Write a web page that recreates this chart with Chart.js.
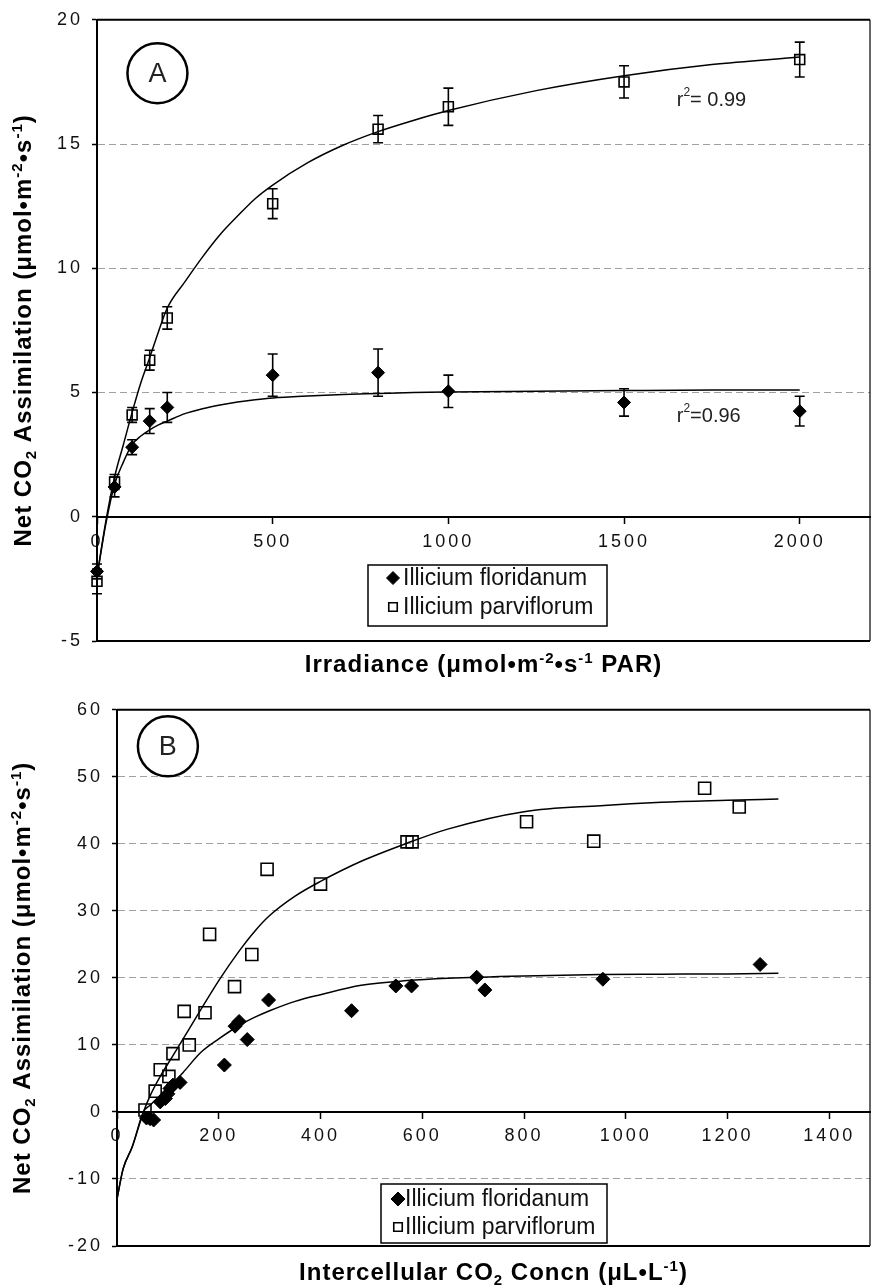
<!DOCTYPE html>
<html>
<head>
<meta charset="utf-8">
<script src="https://cdn.jsdelivr.net/npm/chart.js@4.4.1/dist/chart.umd.min.js"></script>
<style>
  html, body { margin: 0; padding: 0; background: #fff; }
  canvas { display: block; }
</style>
</head>
<body>
<canvas id="chartA" width="871" height="690"></canvas>
<canvas id="chartB" width="871" height="598"></canvas>
<script>
// ---- panel A: light response curves ----
var irradiance = [0, 50, 100, 150, 200, 500, 800, 1000, 1500, 2000];
var floridanumA = [-2.2, 1.2, 2.8, 3.85, 4.4, 5.7, 5.8, 5.05, 4.6, 4.25];
var floridanumAErr = [0.3, 0.4, 0.3, 0.5, 0.6, 0.85, 0.95, 0.65, 0.55, 0.6];
var parviflorumA = [-2.6, 1.4, 4.1, 6.3, 8.0, 12.6, 15.6, 16.5, 17.5, 18.4];
var parviflorumAErr = [0.5, 0.3, 0.3, 0.4, 0.45, 0.6, 0.55, 0.75, 0.65, 0.7];

var fitIrradiance = [0, 25, 50, 75, 100, 125, 150, 175, 200, 250, 300, 350, 400, 450, 500, 600, 700, 800, 900, 1000, 1250, 1500, 1750, 2000];
var fitFloridanumA = [-2.4, -0.3, 1.3, 2.2, 2.9, 3.25, 3.5, 3.7, 3.85, 4.15, 4.35, 4.5, 4.62, 4.71, 4.78, 4.86, 4.92, 4.96, 5.0, 5.02, 5.05, 5.08, 5.1, 5.1];
var fitParviflorumA = [-2.4, -0.2, 1.6, 2.9, 4.2, 5.4, 6.4, 7.45, 8.4, 9.45, 10.45, 11.35, 12.1, 12.8, 13.35, 14.25, 14.95, 15.5, 15.95, 16.35, 17.15, 17.75, 18.2, 18.5];

var xTicksA = [0, 500, 1000, 1500, 2000];
var yTicksA = [-5, 0, 5, 10, 15, 20];

// ---- panel B: CO2 response (A/Ci) ----
var ciFloridanum = [58, 65, 72, 85, 95, 100, 104, 110, 124, 211, 232, 240, 256, 298, 461, 548, 579, 707, 723, 955, 1264];
var floridanumB = [-0.9, -1.0, -1.2, 1.5, 2.0, 2.7, 3.5, 4.0, 4.4, 7.0, 12.8, 13.5, 10.8, 16.7, 15.1, 18.8, 18.8, 20.1, 18.2, 19.8, 22.0];
var ciParviflorum = [55, 75, 85, 102, 110, 132, 142, 173, 182, 231, 265, 295, 400, 570, 580, 805, 937, 1155, 1223];
var parviflorumB = [0.3, 3.1, 6.3, 5.3, 8.7, 15.0, 10.0, 14.8, 26.5, 18.7, 23.5, 36.2, 34.0, 40.3, 40.3, 43.3, 40.4, 48.3, 45.5];

var fitCi = [0, 12, 30, 52, 65, 85, 110, 130, 165, 200, 240, 270, 300, 350, 400, 480, 570, 650, 800, 950, 1070, 1200, 1300];
var fitParviflorumB = [-13, -8.5, -5.2, 0.0, 2.4, 5.3, 8.4, 10.9, 15.3, 19.6, 24.0, 26.9, 29.3, 32.2, 34.4, 37.4, 40.1, 42.2, 44.8, 45.7, 46.2, 46.5, 46.7];
var fitFloridanumB = [-13, -8.5, -5.2, 0.0, 1.0, 2.5, 4.3, 5.9, 8.9, 10.9, 12.9, 14.1, 15.1, 16.5, 17.5, 18.9, 19.6, 19.95, 20.3, 20.5, 20.55, 20.6, 20.7];

var xTicksB = [0, 200, 400, 600, 800, 1000, 1200, 1400];
var yTicksB = [-20, -10, 0, 10, 20, 30, 40, 50, 60];

var speciesNames = ['Illicium floridanum', 'Illicium parviflorum'];

var FONT = '"Liberation Sans", Arial, Helvetica, sans-serif';
var helpers = Chart.helpers;

function toPoints(xs, ys) {
  return xs.map(function (x, i) { return {x: x, y: ys[i]}; });
}

// text with sub (-1) / superscript (1) pieces
function richWidth(ctx, parts, size, weight) {
  var w = 0;
  parts.forEach(function (p) {
    ctx.font = weight + ' ' + (p[1] ? Math.round(size * 0.62) : size) + 'px ' + FONT;
    w += ctx.measureText(p[0]).width;
  });
  return w;
}
function drawRich(ctx, parts, x, y, size, weight) {
  parts.forEach(function (p) {
    ctx.font = weight + ' ' + (p[1] ? Math.round(size * 0.62) : size) + 'px ' + FONT;
    var dy = p[1] < 0 ? size * 0.22 : (p[1] > 0 ? -size * 0.38 : 0);
    ctx.fillText(p[0], x, y + dy);
    x += ctx.measureText(p[0]).width;
  });
}

var tickSpacing = {
  id: 'tickSpacing',
  beforeDraw: function (chart) { chart.ctx.letterSpacing = '3px'; }
};

var frame = {
  id: 'frame',
  beforeDatasetsDraw: function (chart) {
    var a = chart.chartArea, ctx = chart.ctx;
    ctx.save();
    ctx.strokeStyle = '#000';
    ctx.lineWidth = 2;
    ctx.beginPath();
    ctx.moveTo(a.left, a.top); ctx.lineTo(a.right, a.top);
    ctx.moveTo(a.left, a.bottom); ctx.lineTo(a.right, a.bottom);
    ctx.stroke();
    ctx.lineWidth = 1.2;
    ctx.beginPath();
    ctx.moveTo(a.right, a.top); ctx.lineTo(a.right, a.bottom);
    ctx.stroke();
    ctx.restore();
  }
};

var errorBars = {
  id: 'errorBars',
  beforeDatasetsDraw: function (chart) {
    var ctx = chart.ctx, xs = chart.scales.x, ys = chart.scales.y;
    ctx.save();
    ctx.strokeStyle = '#000';
    ctx.lineWidth = 1.6;
    chart.data.datasets.forEach(function (ds) {
      if (!ds.errors) return;
      ds.data.forEach(function (p, i) {
        var e = ds.errors[i];
        var px = xs.getPixelForValue(p.x);
        var y1 = ys.getPixelForValue(p.y + e), y2 = ys.getPixelForValue(p.y - e);
        ctx.beginPath();
        ctx.moveTo(px, y1); ctx.lineTo(px, y2);
        ctx.moveTo(px - 5, y1); ctx.lineTo(px + 5, y1);
        ctx.moveTo(px - 5, y2); ctx.lineTo(px + 5, y2);
        ctx.stroke();
      });
    });
    ctx.restore();
  }
};

var axisTitles = {
  id: 'axisTitles',
  afterDraw: function (chart, args, o) {
    var ctx = chart.ctx, a = chart.chartArea, size = 24;
    ctx.save();
    ctx.letterSpacing = '1px';
    ctx.fillStyle = '#000';
    ctx.textAlign = 'left';
    ctx.textBaseline = 'alphabetic';
    var w = richWidth(ctx, o.x, size, 'bold');
    drawRich(ctx, o.x, (a.left + a.right) / 2 - w / 2, a.bottom + o.xBaseline, size, 'bold');
    w = richWidth(ctx, o.y, size, 'bold');
    ctx.translate(o.yCenter, (a.top + a.bottom) / 2);
    ctx.rotate(-Math.PI / 2);
    drawRich(ctx, o.y, -w / 2, size * 0.36, size, 'bold');
    ctx.restore();
  }
};

var notes = {
  id: 'notes',
  afterDraw: function (chart, args, o) {
    var ctx = chart.ctx, xs = chart.scales.x, ys = chart.scales.y;
    ctx.save();
    ctx.letterSpacing = '0px';
    var cx = xs.getPixelForValue(o.circle.x), cy = ys.getPixelForValue(o.circle.y);
    ctx.strokeStyle = '#000';
    ctx.lineWidth = 2.5;
    ctx.beginPath();
    ctx.arc(cx, cy, 30, 0, Math.PI * 2);
    ctx.stroke();
    ctx.fillStyle = '#222';
    ctx.font = '27px ' + FONT;
    ctx.textAlign = 'center';
    ctx.textBaseline = 'middle';
    ctx.fillText(o.circle.text, cx, cy + 1);
    ctx.textAlign = 'left';
    (o.labels || []).forEach(function (l) {
      drawRich(ctx, l.parts, xs.getPixelForValue(l.x), ys.getPixelForValue(l.y), 20, 'normal');
    });
    ctx.restore();
  }
};

var boxLegend = {
  id: 'boxLegend',
  afterDraw: function (chart, args, o) {
    var ctx = chart.ctx;
    ctx.save();
    ctx.letterSpacing = '0px';
    ctx.fillStyle = '#fff';
    ctx.fillRect(o.left, o.top, o.width, o.height);
    ctx.strokeStyle = '#000';
    ctx.lineWidth = 1.5;
    ctx.strokeRect(o.left, o.top, o.width, o.height);
    var row = 0;
    chart.data.datasets.forEach(function (ds) {
      if (ds.showLine) return;
      var y = o.top + o.rows[row];
      ctx.fillStyle = ds.backgroundColor;
      ctx.strokeStyle = ds.borderColor;
      ctx.lineWidth = ds.borderWidth;
      helpers.drawPoint(ctx, {pointStyle: ds.pointStyle, radius: o.markerRadius[row], borderWidth: ds.borderWidth, rotation: 0}, o.left + o.markerX, y);
      ctx.fillStyle = '#111';
      ctx.font = '23px ' + FONT;
      ctx.textAlign = 'left';
      ctx.textBaseline = 'middle';
      ctx.fillText(ds.label, o.left + o.textX, y + 1);
      row++;
    });
    ctx.restore();
  }
};

function makeDatasets(fitX, fitF, fitP, xF, yF, errF, xP, yP, errP, rF, rP) {
  var curve = {showLine: true, pointRadius: 0, borderColor: '#000', borderWidth: 1.5, cubicInterpolationMode: 'monotone', fill: false};
  return [
    Object.assign({label: 'fit F', data: toPoints(fitX, fitF)}, curve),
    Object.assign({label: 'fit P', data: toPoints(fitX, fitP)}, curve),
    {label: speciesNames[0], data: toPoints(xF, yF), errors: errF, pointStyle: 'rectRot', pointRadius: rF,
     backgroundColor: '#000', borderColor: '#000', borderWidth: 1, clip: false},
    {label: speciesNames[1], data: toPoints(xP, yP), errors: errP, pointStyle: 'rect', pointRadius: rP,
     backgroundColor: 'rgba(0,0,0,0)', borderColor: '#000', borderWidth: 1.6, clip: false}
  ];
}

function fixedTicks(values) {
  return function (s) { s.ticks = values.map(function (v) { return {value: v}; }); };
}

function makeOptions(o) {
  var yMin = o.yTicks[0], yMax = o.yTicks[o.yTicks.length - 1];
  return {
    responsive: false,
    animation: false,
    events: [],
    layout: {autoPadding: false, padding: {left: 0, right: 1, top: 19, bottom: o.bottomPad}},
    scales: {
      x: {
        type: 'linear', min: 0, max: o.xMax, position: {y: 0},
        afterBuildTicks: fixedTicks(o.xTicks),
        afterFit: function (s) { s.paddingLeft = 0; s.paddingRight = 0; },
        ticks: {color: '#111', font: {family: FONT, size: 18}, padding: o.xPad, maxRotation: 0, autoSkip: false,
                callback: function (v) { return String(v); }},
        grid: {drawOnChartArea: false, drawTicks: true, tickLength: 6, tickColor: '#000', tickWidth: 1.5, tickBorderDash: []},
        border: {color: '#000', width: 2}
      },
      y: {
        type: 'linear', min: yMin, max: yMax,
        afterBuildTicks: fixedTicks(o.yTicks),
        afterFit: function (s) { s.width = o.yWidth; },
        ticks: {color: '#111', font: {family: FONT, size: 18}, padding: 9, autoSkip: false,
                callback: function (v) { return String(v); }},
        grid: {
          color: function (c) {
            var v = c.tick ? c.tick.value : null;
            return (v === 0 || v === yMin || v === yMax) ? 'rgba(0,0,0,0)' : '#a0a0a0';
          },
          lineWidth: 1, tickLength: 5, tickColor: '#000', tickWidth: 1.5, tickBorderDash: []
        },
        border: {color: '#000', width: 2, dash: [7, 4]}
      }
    },
    plugins: {
      legend: {display: false},
      tooltip: {enabled: false},
      axisTitles: o.titles,
      notes: o.notes,
      boxLegend: o.legend
    }
  };
}

var plugins = [tickSpacing, frame, errorBars, axisTitles, notes, boxLegend];

new Chart(document.getElementById('chartA'), {
  type: 'scatter',
  data: {datasets: makeDatasets(fitIrradiance, fitFloridanumA, fitParviflorumA,
    irradiance, floridanumA, floridanumAErr, irradiance, parviflorumA, parviflorumAErr, 6.5, 7)},
  options: makeOptions({
    xMax: 2200, xTicks: xTicksA, xPad: 8, yTicks: yTicksA, yWidth: 97, bottomPad: 49,
    titles: {
      x: [['Irradiance (\u03bcmol\u2022m', 0], ['-2', 1], ['\u2022s', 0], ['-1', 1], [' PAR)', 0]],
      y: [['Net CO', 0], ['2', -1], [' Assimilation (\u03bcmol\u2022m', 0], ['-2', 1], ['\u2022s', 0], ['-1', 1], [')', 0]],
      xBaseline: 31, yCenter: 22
    },
    notes: {
      circle: {x: 172, y: 17.85, text: 'A'},
      labels: [
        {x: 1650, y: 16.75, parts: [['r', 0], ['2', 1], ['= 0.99', 0]]},
        {x: 1650, y: 4.05, parts: [['r', 0], ['2', 1], ['=0.96', 0]]}
      ]
    },
    legend: {left: 368, top: 565, width: 239, height: 61, markerX: 25, textX: 35, rows: [13, 42], markerRadius: [6.5, 6]}
  }),
  plugins: plugins
});

new Chart(document.getElementById('chartB'), {
  type: 'scatter',
  data: {datasets: makeDatasets(fitCi, fitFloridanumB, fitParviflorumB,
    ciFloridanum, floridanumB, null, ciParviflorum, parviflorumB, null, 7, 8.5)},
  options: makeOptions({
    xMax: 1480, xTicks: xTicksB, xPad: 7, yTicks: yTicksB, yWidth: 117, bottomPad: 42,
    titles: {
      x: [['Intercellular CO', 0], ['2', -1], [' Concn (\u03bcL\u2022L', 0], ['-1', 1], [')', 0]],
      y: [['Net CO', 0], ['2', -1], [' Assimilation (\u03bcmol\u2022m', 0], ['-2', 1], ['\u2022s', 0], ['-1', 1], [')', 0]],
      xBaseline: 34, yCenter: 21
    },
    notes: {circle: {x: 100, y: 54.55, text: 'B'}, labels: []},
    legend: {left: 381, top: 494, width: 226, height: 59, markerX: 17, textX: 24, rows: [15, 43], markerRadius: [7, 6]}
  }),
  plugins: plugins
});
</script>
</body>
</html>
